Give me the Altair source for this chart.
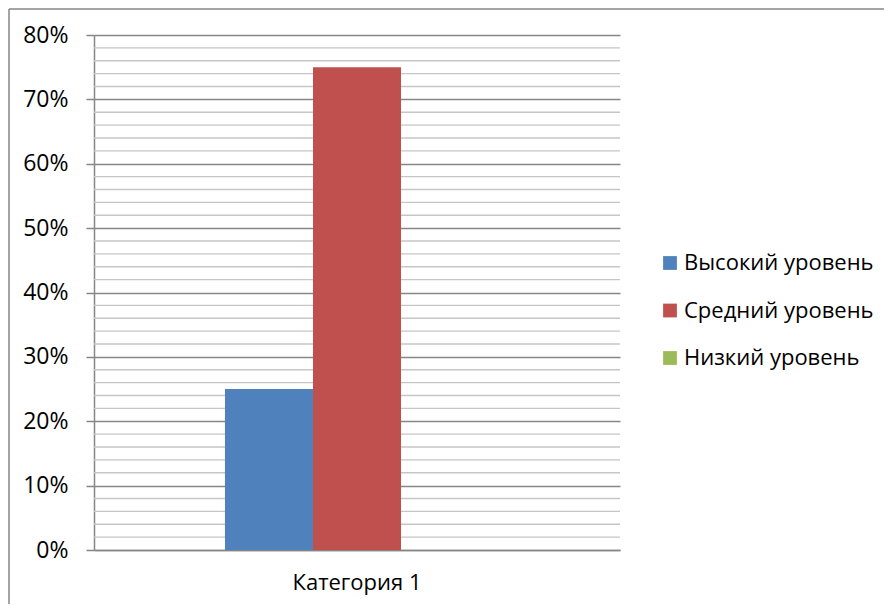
import altair as alt
import pandas as pd

categories = ["Категория 1"]
series = ["Высокий уровень", "Средний уровень", "Низкий уровень"]
values = [0.25, 0.75, 0.0]
colors = ["#4F81BD", "#C0504D", "#9BBB59"]
major_ticks = [0, 0.1, 0.2, 0.3, 0.4, 0.5, 0.6, 0.7, 0.8]
minor_ticks = [v / 100 for v in range(2, 80, 2) if v % 10 != 0]

df = pd.DataFrame({"cat": categories * 3, "series": series, "value": values})
minor_df = pd.DataFrame({"v": minor_ticks})

FONT = "Open Sans"
FS = 22

yscale = alt.Scale(domain=[0, 0.8], nice=False, zero=True)
yaxis = alt.Axis(title=None, values=major_ticks, format=".0%", labelFontSize=23,
                 labelFont=FONT, labelColor="#000", tickSize=8, tickColor="#868686",
                 tickWidth=1.5, domainColor="#868686", domainWidth=1.5,
                 gridColor="#868686", gridWidth=1.5, labelPadding=18)

minor = alt.Chart(minor_df).mark_rule(color="#c6c6c6", strokeWidth=1.3).encode(
    y=alt.Y("v:Q", scale=yscale, axis=yaxis)
)

bars = alt.Chart(df).mark_bar().encode(
    x=alt.X("cat:N", scale=alt.Scale(paddingInner=0, paddingOuter=0.496),
            axis=alt.Axis(title=None, ticks=False, labelAngle=0, labelFontSize=FS,
                          labelFont=FONT, labelColor="#000", labelPadding=22,
                          domainColor="#868686", domainWidth=1.5, grid=False)),
    xOffset=alt.XOffset("series:N", sort=series, scale=alt.Scale(paddingInner=0, paddingOuter=0)),
    y=alt.Y("value:Q", scale=yscale, axis=yaxis),
    color=alt.Color("series:N", sort=series,
                    scale=alt.Scale(domain=series, range=colors),
                    legend=alt.Legend(title=None, orient="none", legendX=565, legendY=217,
                                      symbolType="square", symbolSize=190, symbolStrokeWidth=0,
                                      labelFontSize=FS, labelFont=FONT, labelColor="#000",
                                      rowPadding=25.5, labelOffset=3, labelLimit=0)),
)

one = pd.DataFrame({"a": [0]})
border_left = alt.Chart(one).mark_rule(color="#868686", strokeWidth=1.5, clip=False).encode(
    x=alt.value(-85), y=alt.value(-26), y2=alt.value(600))
border_top = alt.Chart(one).mark_rule(color="#868686", strokeWidth=1.5, clip=False).encode(
    x=alt.value(-85), x2=alt.value(820), y=alt.value(-26))

chart = alt.layer(minor, bars, border_left, border_top).properties(
    width=526, height=515,
    padding={"left": 86, "top": 27, "right": 264, "bottom": 54},
    autosize=alt.AutoSizeParams(type="none"),
).configure_view(stroke=None)

chart.save("out.html", embed_options={"renderer": "svg", "actions": False})
